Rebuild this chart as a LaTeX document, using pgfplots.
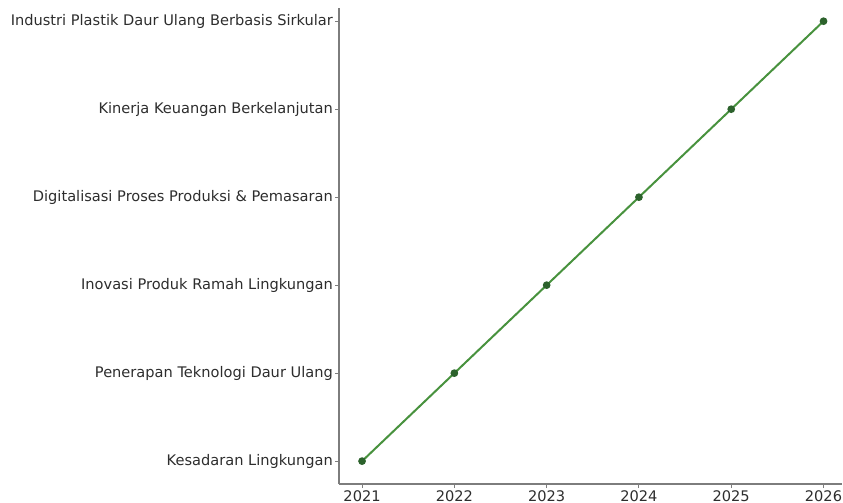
\documentclass[border=0pt]{standalone}
\usepackage{fontspec}
\setmainfont{DejaVu Sans}
\usepackage{pgfplots}
\pgfplotsset{compat=1.18}
\definecolor{linegreen}{RGB}{72,146,62}
\definecolor{markgreen}{RGB}{44,98,44}
\definecolor{spine}{RGB}{125,125,125}
\definecolor{txt}{RGB}{45,45,45}
\begin{document}
\begin{tikzpicture}
\begin{axis}[
    scale only axis,
    width=503bp, height=476bp,
    xmin=2020.75, xmax=2026.2,
    ymin=-0.26, ymax=5.15,
    axis x line*=bottom, axis y line*=left,
    axis line style={spine, line width=1.2bp, -},
    tick style={spine, line width=0.9bp},
    tick align=outside,
    major tick length=4bp,
    xtick={2021,...,2026},
    ytick={0,...,5},
    yticklabels={
        Kesadaran Lingkungan,
        Penerapan Teknologi Daur Ulang,
        Inovasi Produk Ramah Lingkungan,
        Digitalisasi Proses Produksi \& Pemasaran,
        Kinerja Keuangan Berkelanjutan,
        Industri Plastik Daur Ulang Berbasis Sirkular},
    /pgf/number format/assume math mode=true,
    xticklabel={\pgfmathprintnumber[1000 sep={},fixed,precision=0]{\tick}},
    ticklabel style={font=\fontsize{14.6bp}{17bp}\selectfont, text=txt},
    yticklabel style={inner sep=1bp, xshift=-1bp},
    xticklabel style={inner sep=1bp, yshift=-1bp},
    clip=false,
]
\addplot[linegreen, line width=2bp, mark=*, mark size=2.8bp,
    mark options={fill=markgreen, draw=markgreen}]
    coordinates {(2021,0) (2022,1) (2023,2) (2024,3) (2025,4) (2026,5)};
\end{axis}
\pgfresetboundingbox
\path ([shift={(-339bp,-19bp)}]current axis.south west) rectangle ([shift={(1bp,8bp)}]current axis.north east);
\end{tikzpicture}
\end{document}
